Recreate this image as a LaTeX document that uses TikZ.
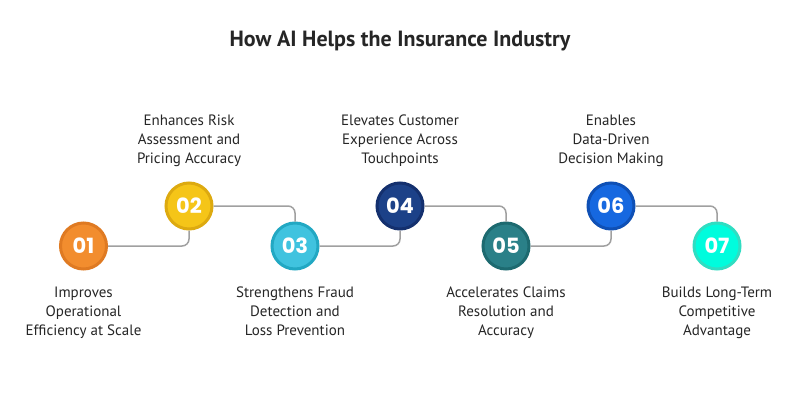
\documentclass[tikz,border=0pt]{standalone}
\usepackage{fontspec}
\setmainfont{PT Sans}
\newfontfamily\numfont{Poppins}
\definecolor{f1}{HTML}{F28D2E}\definecolor{r1}{HTML}{DF7A22}
\definecolor{f2}{HTML}{F5C518}\definecolor{r2}{HTML}{DDAA10}
\definecolor{f3}{HTML}{40C3DF}\definecolor{r3}{HTML}{22A8C3}
\definecolor{f4}{HTML}{1C4188}\definecolor{r4}{HTML}{14306E}
\definecolor{f5}{HTML}{2A8088}\definecolor{r5}{HTML}{1D6A70}
\definecolor{f6}{HTML}{1668E0}\definecolor{r6}{HTML}{0F50B5}
\definecolor{f7}{HTML}{00FCDD}\definecolor{r7}{HTML}{30DDC2}
\definecolor{conncol}{HTML}{A0A0A0}
\definecolor{txt}{HTML}{262626}
\begin{document}
\begin{tikzpicture}[x=1pt,y=-1pt,
  num/.style={circle, minimum size=46pt, line width=3pt, inner sep=0pt,
    font=\numfont\bfseries\fontsize{21}{21}\selectfont, text=white},
  conn/.style={draw=conncol, line width=1.5pt, rounded corners=7pt},
  lbl/.style={align=center, inner sep=0pt, text=txt,
    font=\fontsize{15}{19}\selectfont},
  lbldown/.style={lbl, anchor=north},
  lblup/.style={lbl, anchor=north}]
\useasboundingbox[fill=white] (0,0) rectangle (800,420);
\node[anchor=base, font=\bfseries\fontsize{22}{26}\selectfont, text=txt] (title) at (400,47) {How AI Helps the Insurance Industry};
\node[num, fill=f1, draw=r1] (n1) at (83.5,246) {01};
\node[num, fill=f2, draw=r2] (n2) at (189,206) {02};
\node[num, fill=f3, draw=r3] (n3) at (295,246) {03};
\node[num, fill=f4, draw=r4] (n4) at (400,206) {04};
\node[num, fill=f5, draw=r5] (n5) at (506,246) {05};
\node[num, fill=f6, draw=r6] (n6) at (611,206) {06};
\node[num, fill=f7, draw=r7] (n7) at (717,246) {07};
\draw[conn] (n1.east) -| (n2.south);
\draw[conn] (n2.east) -| (n3.north);
\draw[conn] (n3.east) -| (n4.south);
\draw[conn] (n4.east) -| (n5.north);
\draw[conn] (n5.east) -| (n6.south);
\draw[conn] (n6.east) -| (n7.north);
\node[lbldown] (l1) at (83.5,286.5) {Improves\\Operational\\Efficiency at Scale};
\node[lblup] (l2) at (189,114.5) {Enhances Risk\\Assessment and\\Pricing Accuracy};
\node[lbldown] (l3) at (295,286.5) {Strengthens Fraud\\Detection and\\Loss Prevention};
\node[lblup] (l4) at (400,114.5) {Elevates Customer\\Experience Across\\Touchpoints};
\node[lbldown] (l5) at (506,286.5) {Accelerates Claims\\Resolution and\\Accuracy};
\node[lblup] (l6) at (611,114.5) {Enables\\Data-Driven\\Decision Making};
\node[lbldown] (l7) at (717,286.5) {Builds Long-Term\\Competitive\\Advantage};
\end{tikzpicture}
\end{document}
